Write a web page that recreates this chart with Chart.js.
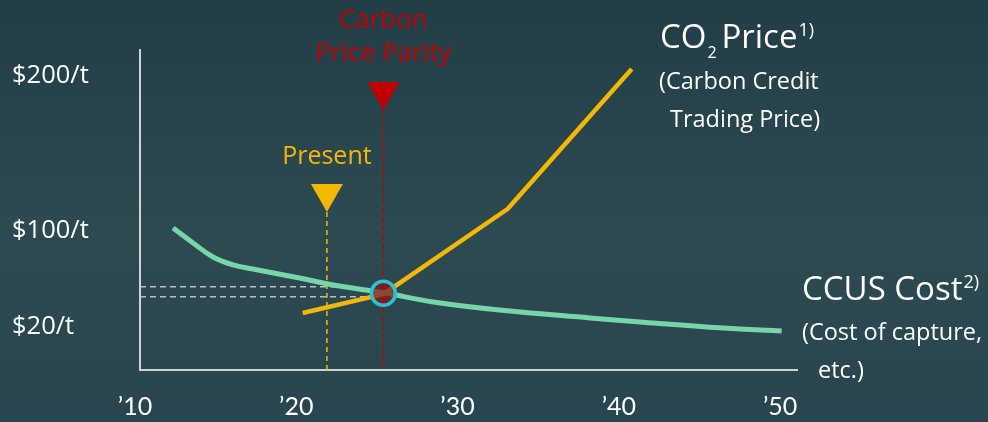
<!DOCTYPE html>
<html>
<head>
<meta charset="utf-8">
<script src="https://cdn.jsdelivr.net/npm/chart.js@4"></script>
<style>
  html, body { margin: 0; padding: 0; }
  body { width: 988px; height: 422px; background: linear-gradient(#223d46, #2d4a51 55%, #294650); }
  #wrap { position: relative; width: 988px; height: 422px; }
</style>
</head>
<body>
<div id="wrap"><canvas id="c" width="988" height="422"></canvas></div>
<script>
// values (schematic chart)
const ccusYears = [2012.36, 2013.6, 2014.84, 2016.08, 2017.3, 2020.2, 2022.3, 2025.5, 2028.5, 2032.6, 2038.2, 2041.3, 2046.5, 2050.1];
const ccusCost  = [101.6, 92.0, 82.9, 77.8, 75.2, 69.4, 64.9, 59.7, 53.9, 48.7, 43.6, 41.0, 37.1, 35.2];
const co2Years  = [2020.4, 2025.4, 2026.4, 2033.1, 2040.8];
const co2Price  = [46.8, 59.0, 66.1, 113.9, 204.2];

const xTicks = [2010, 2020, 2030, 2040, 2050];
const xTickLabels = ['\u201910', '\u201920', '\u201930', '\u201940', '\u201950'];
const yTicks = [38, 100, 200];
const yTickLabels = ['$20/t', '$100/t', '$200/t'];

const presentYear = 2021.9;
const parityYear = 2025.4;
const parityValue = 59.5;
const refLevels = [63.8, 57.3];      // grey dashed guides
const refEnds = [2023.5, 2024.6];

const FONT = '"Open Sans", Lato, sans-serif';
const yellow = '#f5b800';
const green = '#76d6aa';
const red = '#c00000';

const annotations = {
  id: 'annotations',
  beforeDatasetsDraw(chart) {
    const {ctx, scales: {x, y}, chartArea} = chart;
    ctx.save();
    // grey guides
    ctx.strokeStyle = '#b9c0c2';
    ctx.lineWidth = 1.5;
    ctx.setLineDash([6, 4]);
    refLevels.forEach((v, i) => {
      ctx.beginPath();
      ctx.moveTo(chartArea.left, y.getPixelForValue(v));
      ctx.lineTo(x.getPixelForValue(refEnds[i]), y.getPixelForValue(v));
      ctx.stroke();
    });
    // vertical markers
    ctx.lineWidth = 1.5;
    ctx.setLineDash([5, 4]);
    ctx.strokeStyle = yellow;
    let px = x.getPixelForValue(presentYear);
    ctx.beginPath(); ctx.moveTo(px, 212); ctx.lineTo(px, chartArea.bottom); ctx.stroke();
    ctx.strokeStyle = red;
    px = x.getPixelForValue(parityYear);
    ctx.beginPath(); ctx.moveTo(px, 109); ctx.lineTo(px, chartArea.bottom); ctx.stroke();
    ctx.restore();
  },
  afterDatasetsDraw(chart) {
    const {ctx, scales: {x, y}} = chart;
    ctx.save();
    const tri = (cx, top, color) => {
      ctx.fillStyle = color;
      ctx.beginPath();
      ctx.moveTo(cx - 16, top); ctx.lineTo(cx + 16, top); ctx.lineTo(cx, top + 28);
      ctx.closePath(); ctx.fill();
    };
    const px = x.getPixelForValue(presentYear);
    const qx = x.getPixelForValue(parityYear);
    tri(px, 184, yellow);
    tri(qx, 82, red);

    // parity circle
    const cy = y.getPixelForValue(parityValue);
    ctx.beginPath();
    ctx.arc(qx, cy, 12, 0, Math.PI * 2);
    ctx.fillStyle = 'rgba(140, 20, 20, 0.72)';
    ctx.fill();
    ctx.lineWidth = 3.5;
    ctx.strokeStyle = '#27c3d2';
    ctx.stroke();

    // texts
    ctx.textAlign = 'center';
    ctx.textBaseline = 'middle';
    ctx.font = '25px ' + FONT;
    ctx.fillStyle = yellow;
    ctx.fillText('Present', px, 157);
    ctx.fillStyle = red;
    ctx.font = '26px ' + FONT;
    ctx.fillText('Carbon', qx, 21);
    ctx.fillText('Price Parity', qx, 54);

    ctx.fillStyle = '#ffffff';
    ctx.textAlign = 'left';
    ctx.font = '33px ' + FONT;
    ctx.fillText('CO', 660, 39);
    let w = ctx.measureText('CO').width;
    ctx.font = '16px ' + FONT;
    ctx.fillText('2', 660 + w + 1, 53);
    ctx.font = '33px ' + FONT;
    ctx.fillText('Price', 660 + w + 15, 39);
    let w2 = ctx.measureText('Price').width;
    ctx.font = '18px ' + FONT;
    ctx.fillText('1)', 660 + w + 16 + w2, 31);
    ctx.font = '23.5px ' + FONT;
    ctx.fillText('(Carbon Credit', 659, 82);
    ctx.fillText('Trading Price)', 670, 120);

    ctx.font = '33px ' + FONT;
    ctx.fillText('CCUS Cost', 802, 291);
    w = ctx.measureText('CCUS Cost').width;
    ctx.font = '18px ' + FONT;
    ctx.fillText('2)', 802 + w + 1, 283);
    ctx.font = '23.5px ' + FONT;
    ctx.fillText('(Cost of capture,', 802, 333);
    ctx.fillText('etc.)', 818, 371);
    ctx.restore();
  }
};

new Chart(document.getElementById('c'), {
  type: 'line',
  data: {
    datasets: [
      {
        label: 'CCUS Cost',
        data: ccusYears.map((yr, i) => ({x: yr, y: ccusCost[i]})),
        borderColor: green,
        borderWidth: 5,
        pointRadius: 0,
        tension: 0.4,
        borderCapStyle: 'butt'
      },
      {
        label: 'CO2 Price',
        data: co2Years.map((yr, i) => ({x: yr, y: co2Price[i]})),
        borderColor: yellow,
        borderWidth: 4.5,
        pointRadius: 0,
        tension: 0,
        borderJoinStyle: 'round'
      }
    ]
  },
  options: {
    responsive: false,
    animation: false,
    events: [],
    layout: { padding: { left: 12, top: 50, right: 191, bottom: 0 } },
    plugins: { legend: { display: false }, tooltip: { enabled: false } },
    scales: {
      x: {
        type: 'linear',
        min: 2010.31,
        max: 2051.05,
        afterBuildTicks: (s) => { s.ticks = xTicks.map(v => ({value: v})); },
        afterFit: (s) => { s.height = 52; },
        grid: { display: false, drawTicks: false },
        border: { display: true, color: '#cfd3d4', width: 2 },
        ticks: {
          autoSkip: false,
          maxRotation: 0,
          padding: 22,
          color: '#ffffff',
          font: { family: 'Lato, sans-serif', size: 25 },
          callback: (v) => xTickLabels[xTicks.indexOf(v)]
        }
      },
      y: {
        type: 'linear',
        min: 10,
        max: 216.5,
        afterBuildTicks: (s) => { s.ticks = yTicks.map(v => ({value: v})); },
        afterFit: (s) => { s.width = 128; },
        grid: { display: false, drawTicks: false },
        border: { display: true, color: '#cfd3d4', width: 2 },
        ticks: {
          crossAlign: 'far',
          padding: 0,
          color: '#ffffff',
          font: { family: FONT, size: 25.5 },
          callback: (v) => yTickLabels[yTicks.indexOf(v)]
        }
      }
    }
  },
  plugins: [annotations]
});
</script>
</body>
</html>
